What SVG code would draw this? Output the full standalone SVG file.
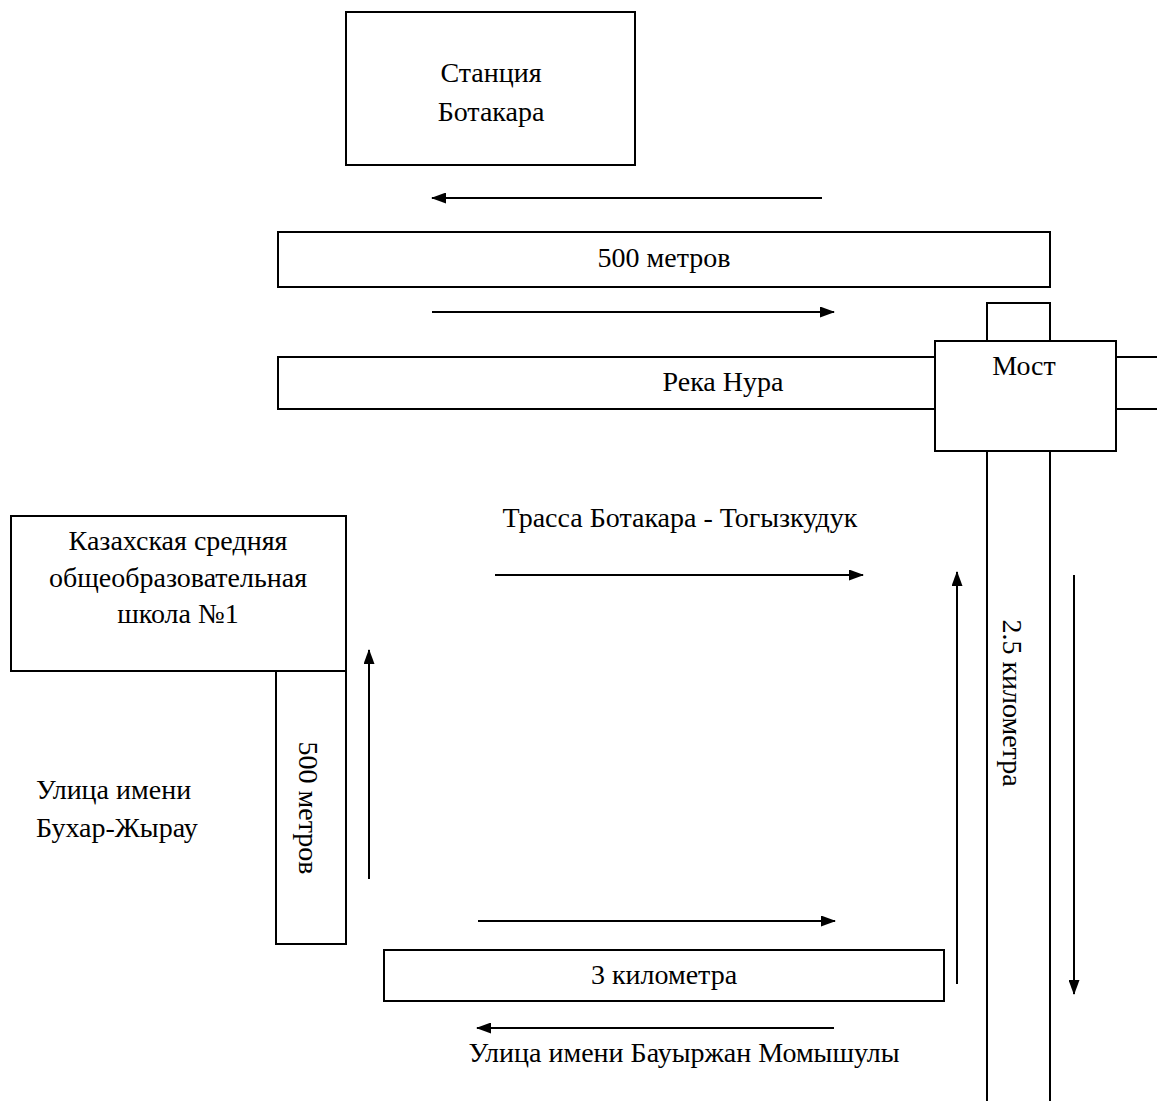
<svg xmlns="http://www.w3.org/2000/svg" width="1157" height="1101" viewBox="0 0 1157 1101">
<style>
.b{fill:#fff;stroke:#000;stroke-width:2}
.l{fill:none;stroke:#000;stroke-width:2}
.a{stroke:#000;stroke-width:2;fill:none;marker-end:url(#ah)}
text{font-family:"Liberation Serif","Times New Roman",serif;font-size:28px;fill:#000}
.c{text-anchor:middle}
</style>
<defs>
<marker id="ah" viewBox="0 0 15 11" refX="14" refY="5.5" markerWidth="15" markerHeight="11" markerUnits="userSpaceOnUse" orient="auto"><path d="M0,0 L15,5.5 L0,11 z" fill="#000"/></marker>
</defs>
<rect width="1157" height="1101" fill="#fff"/>
<g id="station"><rect class="b" x="346" y="12" width="289" height="153"/><text class="c" x="491" y="82">Станция</text><text class="c" x="491" y="121">Ботакара</text></g>
<g id="road500"><rect class="b" x="278" y="232" width="772" height="55"/><text class="c" x="664" y="267">500 метров</text></g>
<g id="river"><rect class="b" x="278" y="357" width="700" height="52"/><line class="l" x1="1116" y1="357" x2="1157" y2="357"/><line class="l" x1="1116" y1="409" x2="1157" y2="409"/><text class="c" x="723" y="391">Река Нура</text></g>
<g id="highway"><line class="l" x1="987" y1="451" x2="987" y2="1101"/><line class="l" x1="1050" y1="451" x2="1050" y2="1101"/><text class="c" transform="translate(1003,703) rotate(90)">2.5 километра</text></g>
<g id="bridge"><rect class="b" x="987" y="303" width="63" height="40"/><rect class="b" x="935" y="341" width="181" height="110"/><text class="c" x="1024" y="375">Мост</text></g>
<g id="trasse-label"><text class="c" x="680" y="527">Трасса Ботакара - Тогызкудук</text></g>
<g id="school"><rect class="b" x="11" y="516" width="335" height="155"/><text class="c" x="178" y="550">Казахская средняя</text><text class="c" x="178" y="587">общеобразовательная</text><text class="c" x="178" y="623">школа №1</text></g>
<g id="street500"><rect class="b" x="276" y="671" width="70" height="273"/><text class="c" transform="translate(299,808) rotate(90)">500 метров</text></g>
<g id="bukhar"><text x="36" y="799">Улица имени</text><text x="36" y="837">Бухар-Жырау</text></g>
<g id="road3"><rect class="b" x="384" y="950" width="560" height="51"/><text class="c" x="664" y="984">3 километра</text></g>
<g id="momyshuly"><text class="c" x="684" y="1062">Улица имени Бауыржан Момышулы</text></g>
<g id="connectors">
<line class="a" x1="822" y1="198" x2="432" y2="198"/>
<line class="a" x1="432" y1="312" x2="834" y2="312"/>
<line class="a" x1="495" y1="575" x2="863" y2="575"/>
<line class="a" x1="957" y1="984" x2="957" y2="572"/>
<line class="a" x1="1074" y1="575" x2="1074" y2="994"/>
<line class="a" x1="369" y1="879" x2="369" y2="650"/>
<line class="a" x1="478" y1="921" x2="835" y2="921"/>
<line class="a" x1="834" y1="1028" x2="477" y2="1028"/>
</g>
</svg>
